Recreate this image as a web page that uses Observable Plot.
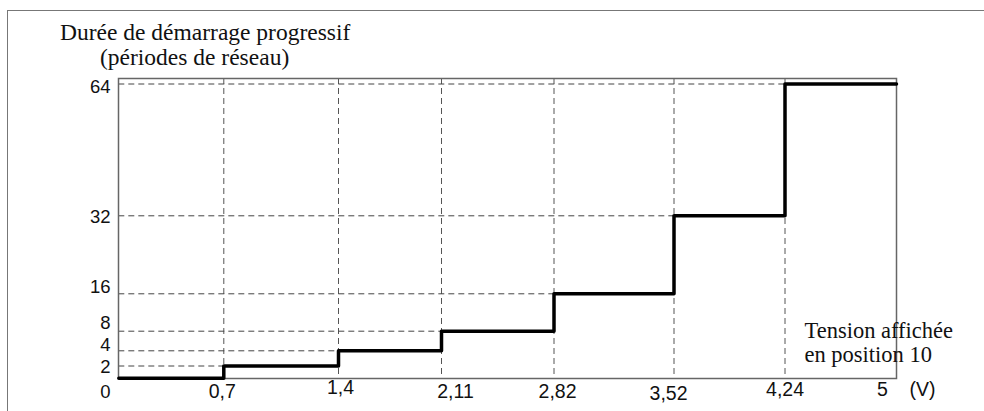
<!DOCTYPE html>
<html><head><meta charset="utf-8">
<script src="https://cdn.jsdelivr.net/npm/d3@7"></script>
<script src="https://cdn.jsdelivr.net/npm/@observablehq/plot@0.6"></script>
<style>
html,body{margin:0;padding:0;background:#fff;width:984px;height:411px;overflow:hidden;}
#wrap{position:relative;width:984px;height:411px;}
#border{position:absolute;left:6.5px;top:10.3px;width:1000px;height:500px;border:1.5px solid #777;}
.ttl{position:absolute;font-family:"Liberation Serif","Times New Roman",serif;font-size:23.5px;line-height:26px;color:#111;white-space:nowrap;}
#chart{position:absolute;left:0;top:0;}
</style></head><body>
<div id="wrap">
<div id="border"></div>
<div class="ttl" style="left:60px;top:19px">Durée de démarrage progressif</div>
<div class="ttl" style="left:100px;top:44px">(périodes de réseau)</div>
<div id="chart"></div>
</div>
<script>
// Data
const voltage = [0, 0.7, 1.4, 2.11, 2.82, 3.52, 4.24, 5];
const duration = [0, 2, 4, 8, 16, 32, 64, 64];
const yTickValues = [0, 2, 4, 8, 16, 32, 64];
const xTickValues = [0.7, 1.4, 2.11, 2.82, 3.52, 4.24, 5];
const xUnit = "(V)";
const noteLines = ["Tension affichée", "en position 10"];

const steps = voltage.map((v, i) => ({v, d: duration[i]}));
const levels = steps.slice(1, 7); // each level starts at its voltage

const fmt = v => String(v).replace(".", ",");
const sans = "Liberation Sans, Arial, sans-serif";
const serif = "Liberation Serif, Times New Roman, serif";

// label nudges (schematic chart, labels not exactly centered on their lines)
const yNudge = {0: 14, 2: 1, 4: -5.8, 8: -7.7, 16: -7, 32: 1.5, 64: 3.5};
const xNudge = {0.7: [-1.6, 19.5], 1.4: [2, 15], 2.11: [14, 19.5], 2.82: [3.5, 19.5], 3.52: [-5.5, 21], 4.24: [0, 17], 5: [-14, 17]};

const chart = Plot.plot({
  width: 984,
  height: 411,
  marginLeft: 118,
  marginRight: 88,
  marginTop: 78,
  marginBottom: 33,
  style: {background: "transparent", overflow: "visible"},
  x: {type: "linear", domain: voltage.slice(0, 7).concat([5]), range: [118.3, 223.3, 338, 441, 553.5, 673.5, 784.5, 896], axis: null},
  y: {type: "linear", domain: yTickValues, range: [377.7, 365.5, 350.3, 330.7, 293.3, 215.3, 83.5], axis: null},
  marks: [
    Plot.ruleX(xTickValues.filter(v => v < 5), {x: d => d, stroke: "#555", strokeWidth: 1, strokeDasharray: "6,4"}),
    Plot.ruleY(levels, {y: "d", x1: 0, x2: "v", stroke: "#444", strokeWidth: 1, strokeDasharray: "6,4"}),
    Plot.frame({stroke: "#666", strokeWidth: 1.5}),
    Plot.line(steps, {x: "v", y: "d", curve: "step-after", stroke: "#000", strokeWidth: 3.5}),
    ...yTickValues.map(t => Plot.text([t], {y: d => d, frameAnchor: "left", dx: -8, dy: yNudge[t], textAnchor: "end", text: d => fmt(d), fontFamily: sans, fontSize: 18.5, fill: "#111"})),
    ...xTickValues.map(t => Plot.text([t], {x: d => d, frameAnchor: "bottom", dx: xNudge[t][0], dy: xNudge[t][1], text: d => fmt(d), fontFamily: sans, fontSize: 19.5, fill: "#111"})),
    Plot.text([xUnit], {frameAnchor: "bottom-right", dx: 26, dy: 17, textAnchor: "middle", text: d => d, fontFamily: sans, fontSize: 19.5, fill: "#111"}),
    Plot.text([noteLines.join("\n")], {frameAnchor: "bottom-right", dx: -92, dy: -36, textAnchor: "start", lineAnchor: "middle", lineHeight: 1.07, text: d => d, fontFamily: serif, fontSize: 22.5, fill: "#111"})
  ]
});
document.getElementById("chart").appendChild(chart);
</script>
</body></html>
